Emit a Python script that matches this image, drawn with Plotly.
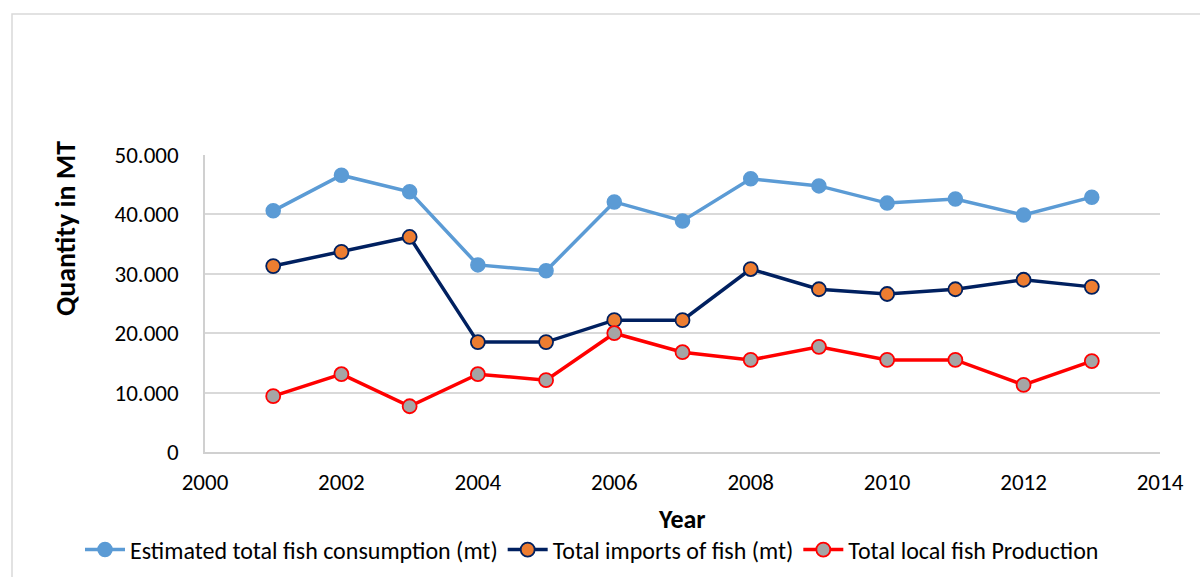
import plotly.graph_objects as go

# Annual fish supply figures (metric tonnes)
years = [2001, 2002, 2003, 2004, 2005, 2006, 2007, 2008, 2009, 2010, 2011, 2012, 2013]
consumption = [40600, 46600, 43800, 31500, 30500, 42100, 38900, 46000, 44800, 41900, 42600, 39900, 42900]
imports = [31300, 33700, 36200, 18500, 18500, 22200, 22200, 30800, 27400, 26600, 27400, 29000, 27800]
local_production = [9400, 13100, 7700, 13100, 12100, 20000, 16800, 15500, 17700, 15500, 15500, 11300, 15300]

series_names = [
    "Estimated total fish consumption (mt)",
    "Total imports of fish (mt)",
    "Total local fish Production",
]
x_ticks = [2000, 2002, 2004, 2006, 2008, 2010, 2012, 2014]
y_ticks = [0, 10000, 20000, 30000, 40000, 50000]

FONT = "Calibri, Carlito, 'Liberation Sans', Arial, sans-serif"

fig = go.Figure()

fig.add_trace(go.Scatter(
    x=years, y=consumption, name=series_names[0], mode="lines+markers",
    line=dict(color="#5B9BD5", width=3.5),
    marker=dict(size=14, color="#5B9BD5", line=dict(color="#5B9BD5", width=1.5)),
))
fig.add_trace(go.Scatter(
    x=years, y=imports, name=series_names[1], mode="lines+markers",
    line=dict(color="#002060", width=3.5),
    marker=dict(size=14, color="#ED7D31", line=dict(color="#002060", width=1.8)),
))
fig.add_trace(go.Scatter(
    x=years, y=local_production, name=series_names[2], mode="lines+markers",
    line=dict(color="#FF0000", width=3.5),
    marker=dict(size=14, color="#A5A5A5", line=dict(color="#FF0000", width=1.8)),
))

L, R, T, B = 205, 40, 155, 125
W, H = 1200, 577
pw, ph = W - L - R, H - T - B


def px_x(p):
    return (p - L) / pw


def px_y(p):
    return (H - B - p) / ph


fig.update_layout(
    width=W, height=H,
    margin=dict(l=L, r=R, t=T, b=B, autoexpand=False),
    paper_bgcolor="white", plot_bgcolor="white",
    separators=",.",
    font=dict(family=FONT, size=24, color="#000000"),
    showlegend=True,
    legend=dict(
        orientation="h", xref="paper", yref="paper",
        x=px_x(80), xanchor="left", y=px_y(550), yanchor="middle",
        font=dict(size=24), itemwidth=40, tracegroupgap=0,
        bgcolor="rgba(0,0,0,0)",
    ),
    xaxis=dict(
        range=[2000, 2014], tickvals=x_ticks, ticktext=[str(v) for v in x_ticks],
        showgrid=False, zeroline=False, showline=True, linecolor="#D0D0D0", linewidth=1.5,
        ticks="", tickfont=dict(size=23), ticklabelstandoff=9,
    ),
    yaxis=dict(
        range=[0, 50000], tickvals=y_ticks, tickformat=",d",
        showgrid=True, gridcolor="#D9D9D9", gridwidth=1.5, zeroline=False,
        showline=True, linecolor="#D0D0D0", linewidth=1.5,
        ticks="", tickfont=dict(size=23), ticklabelstandoff=20,
    ),
    annotations=[
        dict(text="<b>Quantity in MT</b>", xref="paper", yref="paper",
             x=px_x(65), y=px_y(229), showarrow=False, textangle=-90,
             font=dict(size=28), xanchor="center", yanchor="middle"),
        dict(text="<b>Year</b>", xref="paper", yref="paper",
             x=px_x(682), y=px_y(519), showarrow=False,
             font=dict(size=26), xanchor="center", yanchor="middle"),
    ],
    shapes=[
        dict(type="rect", xref="paper", yref="paper",
             x0=px_x(12), y0=px_y(590), x1=px_x(1210), y1=px_y(14),
             line=dict(color="#D9D9D9", width=1.5), fillcolor="rgba(0,0,0,0)", layer="below"),
    ],
)

fig.write_html("out.html")
